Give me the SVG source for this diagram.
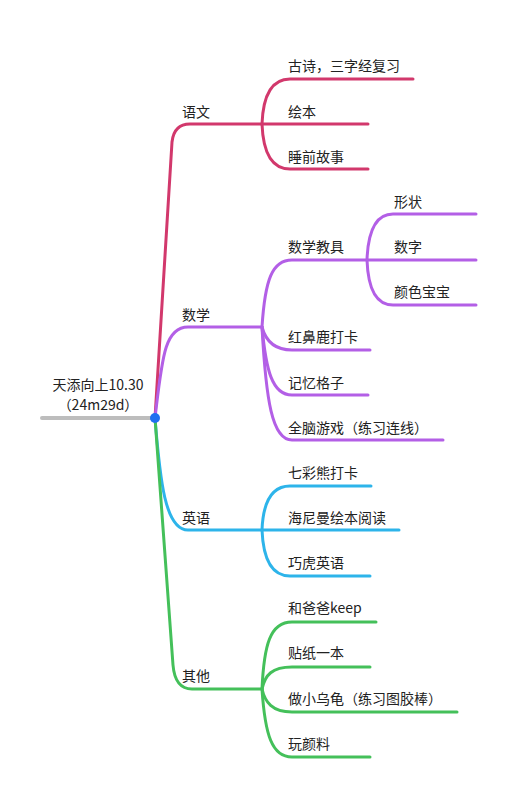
<svg xmlns="http://www.w3.org/2000/svg" width="517" height="800" viewBox="0 0 517 800">
<style>
  text { font-family: "Noto Sans CJK SC", "Noto Sans", sans-serif; font-size: 14px; fill: #222; }
  .c { fill: none; stroke-width: 3; stroke-linecap: round; stroke-linejoin: round; }
  .red { stroke: #D2386C; }
  .pur { stroke: #B35FE6; }
  .blu { stroke: #2DB4EA; }
  .grn { stroke: #44C05A; }
</style>
<rect width="517" height="800" fill="#ffffff"/>
<g id="connectors">
  <line x1="42" y1="418" x2="155" y2="418" stroke="#BDBDBD" stroke-width="4" stroke-linecap="round"/>
  <!-- 语文 -->
  <path class="c red" d="M155,418 L172,142 Q174,124 190,124 L262,124"/>
  <path class="c red" d="M262,124 C263,98 270,79 290,79 L413,79"/>
  <path class="c red" d="M262,124 L368,124"/>
  <path class="c red" d="M262,124 C263,150 270,169 290,169 L368,169"/>
  <!-- 数学 -->
  <path class="c pur" d="M155,418 C162,360 164,327 188,327 L262,327"/>
  <path class="c pur" d="M262,327 C265,280 272,260 292,260 L367,260"/>
  <path class="c pur" d="M367,260 C368,232 375,214 393,214 L476,214"/>
  <path class="c pur" d="M367,260 L476,260"/>
  <path class="c pur" d="M367,260 C368,288 375,305 393,305 L476,305"/>
  <path class="c pur" d="M262,327 C266,342 275,350 292,350 L370,350"/>
  <path class="c pur" d="M262,327 C266,370 272,395 292,395 L368,395"/>
  <path class="c pur" d="M262,327 C266,400 272,440 292,440 L443,440"/>
  <!-- 英语 -->
  <path class="c blu" d="M155,418 C160,480 165,530 188,530 L262,530"/>
  <path class="c blu" d="M262,530 C263,505 270,486 290,486 L371,486"/>
  <path class="c blu" d="M262,530 L399,530"/>
  <path class="c blu" d="M262,530 C263,555 270,576 290,576 L370,576"/>
  <!-- 其他 -->
  <path class="c grn" d="M155,418 L173,665 Q175,689 192,689 L262,689"/>
  <path class="c grn" d="M262,689 C264,645 270,622 292,622 L376,622"/>
  <path class="c grn" d="M262,689 C265,675 272,667 292,667 L370,667"/>
  <path class="c grn" d="M262,689 C265,702 272,712 292,712 L457,712"/>
  <path class="c grn" d="M262,689 C265,735 272,757 292,757 L370,757"/>
</g>
<g id="root">
  <text x="98" y="390" text-anchor="middle">天添向上10.30</text>
  <text x="98" y="410" text-anchor="middle">（24m29d）</text>
  <circle cx="155" cy="418" r="5" fill="#1E6FF0"/>
</g>
<g id="yuwen"><text x="182" y="117">语文</text></g>
<g id="gushi"><text x="288" y="71">古诗，三字经复习</text></g>
<g id="huiben"><text x="288" y="117">绘本</text></g>
<g id="shuiqian"><text x="288" y="162">睡前故事</text></g>
<g id="shuxue"><text x="182" y="320">数学</text></g>
<g id="jiaoju"><text x="288" y="252">数学教具</text></g>
<g id="xingzhuang"><text x="394" y="207">形状</text></g>
<g id="shuzi"><text x="394" y="252">数字</text></g>
<g id="yanse"><text x="394" y="297">颜色宝宝</text></g>
<g id="hongbilu"><text x="288" y="342">红鼻鹿打卡</text></g>
<g id="jiyi"><text x="288" y="388">记忆格子</text></g>
<g id="quannao"><text x="288" y="433">全脑游戏（练习连线）</text></g>
<g id="yingyu"><text x="182" y="523">英语</text></g>
<g id="qicai"><text x="288" y="478">七彩熊打卡</text></g>
<g id="hainiman"><text x="288" y="523">海尼曼绘本阅读</text></g>
<g id="qiaohu"><text x="288" y="568">巧虎英语</text></g>
<g id="qita"><text x="182" y="681">其他</text></g>
<g id="keep"><text x="288" y="613">和爸爸keep</text></g>
<g id="tiezhi"><text x="288" y="658">贴纸一本</text></g>
<g id="wugui"><text x="288" y="704">做小乌龟（练习图胶棒）</text></g>
<g id="yanliao"><text x="288" y="749">玩颜料</text></g>
</svg>
